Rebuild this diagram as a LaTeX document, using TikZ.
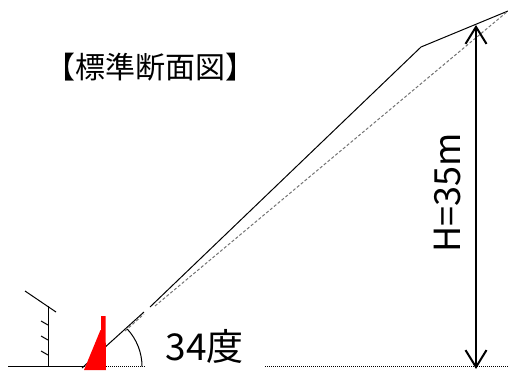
\documentclass[tikz,border=0pt]{standalone}
\usepackage{fontspec}
\setmainfont{Noto Sans CJK JP}
\usepackage{xcolor}
\usetikzlibrary{arrows.meta,arrows}
\tikzset{
  groundline/.style={line width=1pt, densely dotted},
  slopeline/.style={line width=1pt},
  hiddenline/.style={line width=1pt, densely dashed, black!55},
  bigtext/.style={inner sep=0pt, anchor=center}
}

\begin{document}
\begin{tikzpicture}[x=1pt,y=1pt]
    \useasboundingbox (0, 0) rectangle (508, 370);
    % Ground And Retaining Wall
    \draw[ slopeline] (8, 3.5) -- (85, 3.5);
    \draw[ slopeline] (48, 3.5) -- (48, 64);
    \draw[ slopeline] (25, 79) -- (56, 58);
    \foreach \ytick in {15, 30, 45}
      \draw[ slopeline] (41, \ytick+4) -- (48, \ytick);
    \draw[ groundline] (106, 3.5) -- (145, 3.5);
    \draw[ groundline] (265, 3.5) -- (508, 3.5);
    % Slope Surface
    \draw[ slopeline] (82, 2) -- (144, 58);
    \draw[ slopeline] (150, 63) -- (421, 323) -- (508, 359);
    % Design Slope
    \draw[ hiddenline] (125, 39) -- (144, 56);
    \draw[ hiddenline] (155, 64) -- (508, 359);
    % Angle Mark
    \draw[ slopeline] (142, 3.5) arc (0:43:55);
    % Red Marker
    \fill[red] (84, 0) -- (100.5, 40) -- (101, 40) -- (101, 54) -- (105.5, 54) -- (106, 0) -- cycle;
    % Height Arrow
    \draw[ line width=2pt, {Straight Barb[length=17pt,width=21pt]}-{Straight Barb[length=17pt,width=21pt]}] (476, 345) -- (476, 1);
    % Labels
    \node[bigtext] (title) at (150, 303) {\fontsize{30}{30}\selectfont 【標準断面図】};
    \node[bigtext] (angle) at (204.5, 24) {\fontsize{37}{37}\selectfont 34度};
    \node[bigtext, rotate=90] (height) at (448, 177) {\fontsize{36}{36}\selectfont H=35m};
\end{tikzpicture}
\end{document}
